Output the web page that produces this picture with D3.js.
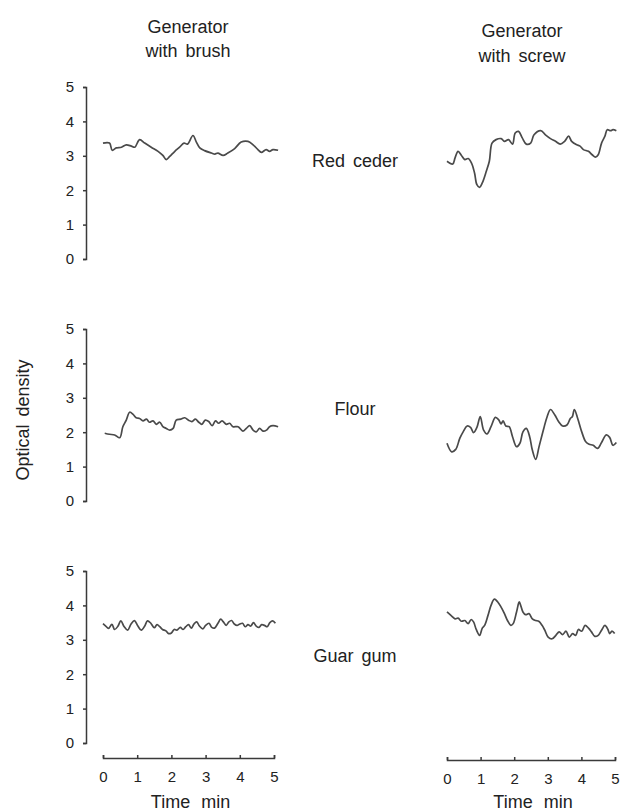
<!DOCTYPE html>
<html>
<head>
<meta charset="utf-8">
<script src="https://cdn.jsdelivr.net/npm/d3@7"></script>
<style>
  body { margin: 0; background: #fff; }
  text { font-family: "Liberation Sans", Arial, sans-serif; fill: #222; }
</style>
</head>
<body>
<div id="wrapper"></div>
<script>
// [time (min), optical density]
const brushRedCeder = [[0,3.37],[0.19,3.37],[0.27,3.16],[0.39,3.23],[0.54,3.25],[0.68,3.32],[0.83,3.28],[0.93,3.25],[1.07,3.47],[1.22,3.37],[1.41,3.25],[1.61,3.13],[1.75,3.01],[1.85,2.89],[1.95,2.98],[2.10,3.13],[2.24,3.25],[2.37,3.37],[2.47,3.34],[2.63,3.59],[2.73,3.40],[2.83,3.23],[2.97,3.15],[3.17,3.08],[3.27,3.05],[3.36,3.08],[3.51,3.01],[3.65,3.08],[3.85,3.21],[4.04,3.40],[4.24,3.42],[4.39,3.32],[4.53,3.18],[4.63,3.10],[4.77,3.18],[4.87,3.13],[4.97,3.18],[5.12,3.16]]
const screwRedCeder = [[0,2.84],[0.17,2.76],[0.24,2.94],[0.33,3.13],[0.43,3.01],[0.53,2.89],[0.63,2.92],[0.73,2.79],[0.82,2.50],[0.89,2.16],[0.97,2.08],[1.05,2.21],[1.17,2.55],[1.26,2.84],[1.34,3.37],[1.46,3.47],[1.61,3.50],[1.71,3.42],[1.83,3.47],[1.95,3.34],[2.03,3.66],[2.13,3.71],[2.24,3.52],[2.36,3.34],[2.49,3.37],[2.59,3.61],[2.79,3.73],[2.93,3.61],[3.08,3.50],[3.23,3.42],[3.37,3.34],[3.50,3.42],[3.62,3.57],[3.71,3.42],[3.86,3.32],[3.96,3.28],[4.06,3.18],[4.21,3.13],[4.32,3.03],[4.42,2.96],[4.50,3.03],[4.60,3.37],[4.70,3.57],[4.77,3.76],[4.87,3.73],[4.94,3.76],[5.04,3.73]]
const brushFlour = [[0.05,1.97],[0.19,1.94],[0.34,1.92],[0.49,1.84],[0.58,2.16],[0.68,2.35],[0.78,2.58],[0.88,2.52],[0.97,2.42],[1.07,2.40],[1.17,2.33],[1.27,2.38],[1.36,2.29],[1.46,2.33],[1.56,2.23],[1.66,2.29],[1.75,2.16],[1.85,2.11],[1.95,2.06],[2.05,2.11],[2.14,2.35],[2.27,2.38],[2.39,2.42],[2.50,2.35],[2.60,2.31],[2.70,2.38],[2.80,2.29],[2.89,2.23],[2.99,2.35],[3.09,2.31],[3.19,2.19],[3.29,2.33],[3.38,2.26],[3.48,2.33],[3.61,2.23],[3.70,2.26],[3.80,2.16],[3.95,2.16],[4.09,2.03],[4.19,2.11],[4.29,2.19],[4.39,2.06],[4.48,2.01],[4.58,2.11],[4.68,2.03],[4.78,2.06],[4.87,2.16],[4.97,2.19],[5.12,2.16]]
const screwFlour = [[0,1.68],[0.14,1.43],[0.26,1.50],[0.38,1.82],[0.48,2.01],[0.60,2.18],[0.70,2.14],[0.79,1.99],[0.89,2.14],[0.99,2.45],[1.09,2.06],[1.19,1.95],[1.31,2.16],[1.44,2.43],[1.54,2.36],[1.61,2.24],[1.67,2.33],[1.75,2.18],[1.85,2.16],[1.95,1.87],[2.07,1.58],[2.17,1.68],[2.26,2.01],[2.36,2.11],[2.46,1.87],[2.54,1.48],[2.64,1.21],[2.74,1.58],[2.88,2.11],[2.98,2.45],[3.08,2.66],[3.21,2.50],[3.32,2.31],[3.44,2.18],[3.57,2.21],[3.67,2.40],[3.73,2.45],[3.79,2.66],[3.89,2.40],[4.01,2.01],[4.13,1.72],[4.23,1.65],[4.35,1.62],[4.48,1.53],[4.60,1.70],[4.74,1.92],[4.84,1.85],[4.94,1.62],[5.04,1.70]]
const brushGuarGum = [[0,3.47],[0.08,3.40],[0.16,3.33],[0.26,3.45],[0.34,3.30],[0.44,3.40],[0.52,3.55],[0.62,3.38],[0.72,3.28],[0.82,3.46],[0.92,3.56],[1.02,3.40],[1.12,3.28],[1.22,3.40],[1.30,3.55],[1.40,3.48],[1.50,3.35],[1.58,3.44],[1.66,3.38],[1.74,3.30],[1.84,3.26],[1.92,3.18],[2.00,3.20],[2.08,3.30],[2.16,3.28],[2.26,3.36],[2.34,3.30],[2.42,3.38],[2.50,3.44],[2.58,3.34],[2.66,3.46],[2.74,3.52],[2.82,3.40],[2.92,3.32],[3.00,3.42],[3.10,3.48],[3.18,3.36],[3.26,3.34],[3.36,3.48],[3.44,3.60],[3.52,3.52],[3.60,3.42],[3.68,3.52],[3.76,3.56],[3.84,3.46],[3.92,3.42],[4.00,3.46],[4.08,3.48],[4.16,3.38],[4.24,3.44],[4.32,3.40],[4.40,3.50],[4.48,3.40],[4.56,3.36],[4.64,3.44],[4.72,3.42],[4.80,3.38],[4.88,3.50],[4.96,3.55],[5.04,3.48]]
const screwGuarGum = [[0,3.81],[0.14,3.69],[0.24,3.61],[0.33,3.63],[0.43,3.54],[0.53,3.56],[0.63,3.47],[0.72,3.59],[0.79,3.52],[0.87,3.30],[0.97,3.13],[1.05,3.34],[1.12,3.42],[1.22,3.71],[1.31,4.00],[1.41,4.18],[1.51,4.10],[1.61,3.95],[1.71,3.76],[1.80,3.56],[1.90,3.42],[1.97,3.47],[2.07,3.81],[2.15,4.10],[2.20,3.98],[2.26,3.81],[2.34,3.73],[2.44,3.76],[2.54,3.61],[2.64,3.56],[2.73,3.54],[2.83,3.42],[2.91,3.28],[3.01,3.08],[3.13,3.03],[3.24,3.13],[3.34,3.23],[3.44,3.15],[3.54,3.25],[3.64,3.08],[3.74,3.18],[3.83,3.13],[3.91,3.30],[4.01,3.25],[4.11,3.42],[4.21,3.34],[4.30,3.23],[4.40,3.10],[4.50,3.13],[4.60,3.28],[4.70,3.42],[4.79,3.30],[4.84,3.18],[4.91,3.25],[4.99,3.18]]

const materials = ['Red ceder', 'Flour', 'Guar gum']
const generatorTitles = [['Generator', 'with brush'], ['Generator', 'with screw']]
const odTicks = [0, 1, 2, 3, 4, 5]
const timeTicks = [0, 1, 2, 3, 4, 5]
const seriesGrid = [
  [brushRedCeder, screwRedCeder],
  [brushFlour, screwFlour],
  [brushGuarGum, screwGuarGum]
]

function drawChart() {
  const xAccessor = d => d[0]
  const yAccessor = d => d[1]

  let dimensions = {
    width: 621,
    height: 811,
    colRange: [[103, 274], [447, 615]],
    colCenter: [188, 522],
    titleY: [[33, 57], [37, 62]],
    rowBottom: [259, 501, 743],
    rowHeight: 172,
    yAxisX: 86,
    xAxisY: [758, 760],
    labelX: 355,
    labelY: [167, 415, 662]
  }

  const wrapper = d3.select('#wrapper')
    .append('svg')
      .attr('width', dimensions.width)
      .attr('height', dimensions.height)

  const ink = '#3a3a3a'

  //scales
  const xScales = dimensions.colRange.map(r => d3.scaleLinear().domain([0, 5]).range(r))
  const yScales = dimensions.rowBottom.map(b => d3.scaleLinear()
    .domain([0, 5])
    .range([b, b - dimensions.rowHeight]))

  //traces
  seriesGrid.forEach((row, i) => {
    row.forEach((series, j) => {
      const lineGenerator = d3.line()
        .x(d => xScales[j](xAccessor(d)))
        .y(d => yScales[i](yAccessor(d)))
        .curve(d3.curveCatmullRom.alpha(0.5))

      wrapper.append('path')
        .attr('d', lineGenerator(series))
        .attr('fill', 'none')
        .attr('stroke', '#4a4a4a')
        .attr('stroke-width', 1.7)
        .attr('stroke-linejoin', 'round')
    })
  })

  //y axes (left column only)
  yScales.forEach(yScale => {
    const yAxis = wrapper.append('g')
      .attr('transform', `translate(${dimensions.yAxisX},0)`)
      .call(d3.axisLeft(yScale)
        .tickValues(odTicks)
        .tickSize(3)
        .tickPadding(9)
        .tickFormat(d3.format('d')))
    yAxis.selectAll('path, line').attr('stroke', ink).attr('stroke-width', 1.5)
    yAxis.selectAll('text')
      .attr('font-size', 15)
      .attr('font-family', '"Liberation Sans", Arial, sans-serif')
      .attr('fill', '#222')
  })

  //x axes (bottom row)
  xScales.forEach((xScale, j) => {
    const xAxis = wrapper.append('g')
      .attr('transform', `translate(0,${dimensions.xAxisY[j]})`)
      .call(d3.axisBottom(xScale)
        .tickValues(timeTicks)
        .tickSizeInner(-3)
        .tickSizeOuter(-3)
        .tickPadding(13)
        .tickFormat(d3.format('d')))
    xAxis.selectAll('path, line').attr('stroke', ink).attr('stroke-width', 1.5)
    xAxis.selectAll('text')
      .attr('font-size', 15)
      .attr('font-family', '"Liberation Sans", Arial, sans-serif')
      .attr('fill', '#222')

    wrapper.append('text')
      .attr('x', (xScale.range()[0] + xScale.range()[1]) / 2 + 2)
      .attr('y', 808)
      .attr('text-anchor', 'middle')
      .attr('font-size', 18)
      .style('word-spacing', '6px')
      .text('Time min')
  })

  //column titles
  generatorTitles.forEach((lines, j) => {
    lines.forEach((line, k) => {
      wrapper.append('text')
        .attr('x', dimensions.colCenter[j])
        .attr('y', dimensions.titleY[j][k])
        .attr('text-anchor', 'middle')
        .attr('font-size', 18)
        .style('word-spacing', '3px')
        .text(line)
    })
  })

  //material labels
  materials.forEach((m, i) => {
    wrapper.append('text')
      .attr('x', dimensions.labelX)
      .attr('y', dimensions.labelY[i])
      .attr('text-anchor', 'middle')
      .attr('font-size', 18)
      .style('word-spacing', '3px')
      .text(m)
  })

  wrapper.append('text')
    .attr('transform', `translate(29,420) rotate(-90)`)
    .attr('text-anchor', 'middle')
    .attr('font-size', 18)
    .style('word-spacing', '3px')
    .text('Optical density')
}

drawChart()
</script>
</body>
</html>
